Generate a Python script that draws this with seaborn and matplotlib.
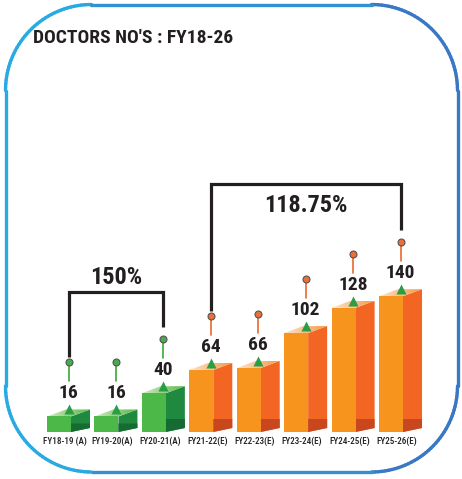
import numpy as np
import pandas as pd
import matplotlib
matplotlib.use("Agg")
import matplotlib.pyplot as plt
import matplotlib.transforms as mtransforms
from matplotlib.patches import Polygon
from matplotlib.collections import LineCollection
from matplotlib.colors import LinearSegmentedColormap, to_rgb
from matplotlib import font_manager
import seaborn as sns

# ---- data ----
years = ["FY18-19 (A)", "FY19-20(A)", "FY20-21(A)", "FY21-22(E)",
         "FY22-23(E)", "FY23-24(E)", "FY24-25(E)", "FY25-26(E)"]
doctors = [16, 16, 40, 64, 66, 102, 128, 140]
status = ["A", "A", "A", "E", "E", "E", "E", "E"]
growth_spans = [(0, 2), (3, 7)]
title = "DOCTORS NO'S : FY18-26"

# ---- canvas / layout (pixels) ----
W, H, DPI = 462, 479, 100
PX_X = 47.43          # px per category
PX_Y = 0.97           # px per doctor
X0_PX = 59            # front-face centre of first bar
BASE_PX = 47          # baseline, px from bottom
DEPTH_X, DEPTH_TOP, DEPTH_BOT = 19, 7, 4

palette = {
    "A": dict(front="#4cb848", side="#1f8a3f", shade="#166b33",
              top=("#cfe9c0", "#5cb94a"), stem="#3aa935", pin="#44ad48"),
    "E": dict(front="#f7941d", side="#f26522", shade="#c9471f",
              top=("#fde4cc", "#f59a45"), stem="#ea6a2c", pin="#e8703a"),
}
INK = "#231f20"


def pick_font():
    names = {f.name for f in font_manager.fontManager.ttflist}
    for cand in ["Roboto Condensed", "Liberation Sans Narrow",
                 "Open Sans Condensed", "DejaVu Sans"]:
        if cand in names:
            return cand
    return "DejaVu Sans"


sns.set_theme(style="white")
FONT = pick_font()
plt.rcParams["font.family"] = [FONT, "DejaVu Sans"]
plt.rcParams["font.stretch"] = "condensed"

fig = plt.figure(figsize=(W / DPI, H / DPI), dpi=DPI)
fig.patch.set_facecolor("white")

# rounded frame drawn in pixel space behind the chart
bax = fig.add_axes([0, 0, 1, 1], zorder=0)
bax.set_xlim(0, W)
bax.set_ylim(H, 0)
bax.axis("off")
L, T, R, B, r = 5.5, 4.5, 457.5, 472, 86
pts = []
def arc(cx, cy, a0, a1):
    a = np.radians(np.linspace(a0, a1, 40))
    return list(zip(cx + r * np.cos(a), cy + r * np.sin(a)))
pts += arc(R - r, T + r, -90, 0)
pts += arc(R - r, B - r, 0, 90)
pts += arc(L + r, B - r, 90, 180)
pts += arc(L + r, T + r, 180, 270)
pts.append(pts[0])
pts = np.array(pts)
segs = np.stack([pts[:-1], pts[1:]], axis=1)
c0, c1 = np.array(to_rgb("#29abe2")), np.array(to_rgb("#3a78c6"))
tpos = np.clip((segs[:, :, 0].mean(axis=1) - 60) / 330, 0, 1)[:, None]
bax.add_collection(LineCollection(segs, colors=c0 + (c1 - c0) * tpos,
                                  linewidths=2.4, capstyle="round"))

fig.text(33 / W, 1 - 38 / H, title, ha="left", va="center",
         fontsize=14, fontweight="heavy", color=INK)

# main chart axes: bottom edge sits on the bar baseline
ax = fig.add_axes([0, BASE_PX / H, 1, 1 - BASE_PX / H], zorder=1)
ax.patch.set_alpha(0)
df = pd.DataFrame({"year": years, "doctors": doctors, "status": status})
sns.barplot(data=df, x="year", y="doctors", hue="status",
            palette={k: v["front"] for k, v in palette.items()},
            dodge=False, width=24 / PX_X, saturation=1, legend=False,
            edgecolor="none", linewidth=0, ax=ax, zorder=3)

ux, uy = 1 / PX_X, 1 / PX_Y
dx, dyt, dyb = DEPTH_X * ux, DEPTH_TOP * uy, DEPTH_BOT * uy

bars = sorted([p for p in ax.patches if p.get_height() > 0], key=lambda p: p.get_x())
pins = []
for idx, (p, st) in enumerate(zip(bars, status)):
    c = palette[st]
    x0, w, h = p.get_x(), p.get_width(), p.get_height()
    xr = x0 + w
    # side face + floor shading
    ax.add_patch(Polygon([(xr, 0), (xr + dx, dyb), (xr + dx, h + dyt), (xr, h)],
                         closed=True, facecolor=c["side"], edgecolor="none", zorder=2))
    sh = min(13 * uy, 0.55 * h)
    ax.add_patch(Polygon([(xr, 0), (xr + dx, dyb), (xr + dx, max(sh, dyb)), (xr, sh)],
                         closed=True, facecolor=c["shade"], edgecolor="none", zorder=2))
    # top face with a light-to-dark sweep
    top = Polygon([(x0, h), (xr, h), (xr + dx, h + dyt), (x0 + dx, h + dyt)],
                  closed=True, facecolor="none", edgecolor="none", zorder=4)
    ax.add_patch(top)
    cm = LinearSegmentedColormap.from_list("topface", list(c["top"]))
    im = ax.imshow(np.linspace(0, 1, 64).reshape(1, -1), cmap=cm, aspect="auto",
                   extent=(x0, xr + dx, h, h + dyt), interpolation="bilinear", zorder=4)
    im.set_clip_path(top)

    xc = x0 + w / 2 + dx / 2
    ax.plot([xc], [h + 7 * uy], marker="^", ms=7.5, color="#2b9e45",
            mec="none", zorder=5, clip_on=False)
    ax.text(xc, h + 23 * uy, f"{doctors[idx]}", ha="center", va="center",
            fontsize=14, fontweight="semibold", color=INK, zorder=5)
    y_pin = h + 54 * uy
    ax.plot([xc, xc], [h + 35 * uy, y_pin], color=c["stem"], lw=1.2, zorder=5)
    ax.plot([xc], [y_pin], marker="o", ms=5, mfc=c["pin"], mec="#555555",
            mew=0.8, zorder=6, clip_on=False)
    pins.append((xc, y_pin))

# growth brackets
bracket_rise = [47, 58]
label_off = [15, -21]
for (i, j), rise, off in zip(growth_spans, bracket_rise, label_off):
    xl, yl = pins[i]
    xr_, yr = pins[j]
    ytop = max(pv[1] for pv in pins[i:j + 1]) + rise * uy
    ax.plot([xl, xl, xr_, xr_], [yl + 5 * uy, ytop, ytop, yr + 12 * uy],
            color=INK, lw=2.3, solid_joinstyle="miter", solid_capstyle="butt", zorder=5)
    pct = (doctors[j] / doctors[i] - 1) * 100
    ax.text((xl + xr_) / 2, ytop + off * uy, f"{pct:g}%", ha="center", va="center",
            fontsize=17.5, fontweight="heavy", color=INK, zorder=5)

ax.set_xlim(-X0_PX / PX_X, (W - X0_PX) / PX_X)
ax.set_ylim(0, (H - BASE_PX) / PX_Y)
ax.set_xlabel("")
ax.set_ylabel("")
ax.set_yticks([])
for s in ax.spines.values():
    s.set_visible(False)
ax.tick_params(axis="x", length=0, pad=3.5, labelsize=6.6, labelcolor=INK)
for lab in ax.get_xticklabels():
    lab.set_fontweight("medium")
shift = mtransforms.ScaledTranslation(6 / DPI, 0, fig.dpi_scale_trans)
for lab in ax.get_xticklabels():
    lab.set_transform(lab.get_transform() + shift)

fig.savefig("out.png", dpi=DPI, facecolor="white")
